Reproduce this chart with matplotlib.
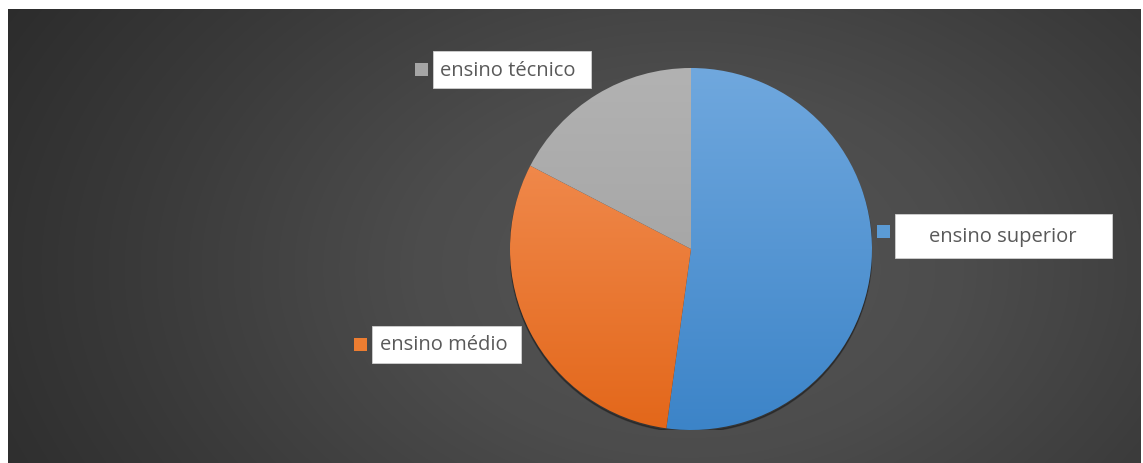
import numpy as np
import matplotlib
matplotlib.use("Agg")
import matplotlib.pyplot as plt
from matplotlib.colors import LinearSegmentedColormap
from matplotlib.patches import Rectangle, Circle

categorias = ['ensino superior', 'ensino médio', 'ensino técnico']
valores = [12, 7, 4]
cor_topo = ['#70a8de', '#f4945c', '#b2b2b2']
cor_base = ['#3c84c8', '#e3671a', '#9c9c9c']
cor_legenda = ['#5b9bd5', '#ed7d31', '#a5a5a5']

W, H = 1143, 463
fig = plt.figure(figsize=(W / 100, H / 100), dpi=100)
fig.patch.set_facecolor('white')

# fundo escuro com gradiente radial
bg = fig.add_axes([8 / W, 0, (1141 - 8) / W, (H - 9) / H])
bg.set_axis_off()
yy, xx = np.mgrid[0:454, 0:1133]
d = np.sqrt(((xx - 680) / 820.0) ** 2 + ((yy - 260) / 560.0) ** 2)
d = np.clip(d, 0, 1)
fundo = LinearSegmentedColormap.from_list('fundo', ['#565656', '#4c4c4c', '#3a3a3a', '#2a2a2a'])
bg.imshow(d, cmap=fundo, vmin=0, vmax=1, aspect='auto', interpolation='bilinear')

# pizza
r = 181
cx, cy = 691, 249
ax = fig.add_axes([(cx - r) / W, (H - cy - r) / H, 2 * r / W, 2 * r / H])
ax.set_axis_off()
sombra = Circle((0, -0.012), 1.0, color='black', alpha=0.3, zorder=0)
ax.add_patch(sombra)
fatias, _ = ax.pie(valores, startangle=90, counterclock=False, radius=1,
                   wedgeprops=dict(linewidth=0))
grad = np.linspace(0, 1, 256).reshape(-1, 1)
for i, w in enumerate(fatias):
    w.set_facecolor('none')
    cm = LinearSegmentedColormap.from_list('c%d' % i, [cor_topo[i], cor_base[i]])
    im = ax.imshow(grad, cmap=cm, extent=[-1, 1, -1, 1], aspect='auto', zorder=2)
    im.set_clip_path(w)
ax.set_xlim(-1, 1)
ax.set_ylim(-1, 1)

# rótulos
ov = fig.add_axes([0, 0, 1, 1])
ov.set_axis_off()
ov.set_xlim(0, W)
ov.set_ylim(H, 0)
rotulos = [
    # quadrado (x, y), caixa (x0, y0, x1, y1), texto x, alinhamento
    ((877, 225), (895, 214, 1112, 258), 1003, 'center'),
    ((354, 338), (372, 326, 521, 363), 380, 'left'),
    ((415, 63), (433, 51, 591, 88), 440, 'left'),
]
for i, (q, caixa, tx, ha) in enumerate(rotulos):
    ov.add_patch(Rectangle(q, 13, 13, facecolor=cor_legenda[i], edgecolor='none'))
    x0, y0, x1, y1 = caixa
    ov.add_patch(Rectangle((x0, y0), x1 - x0, y1 - y0, facecolor='white', edgecolor='#d0d0d0', linewidth=0.6))
    ov.text(tx, (y0 + y1) / 2 + 1, categorias[i], ha=ha, va='center', fontsize=14.5,
            color='#595959', family='Open Sans')

fig.savefig('out.png', dpi=100)
